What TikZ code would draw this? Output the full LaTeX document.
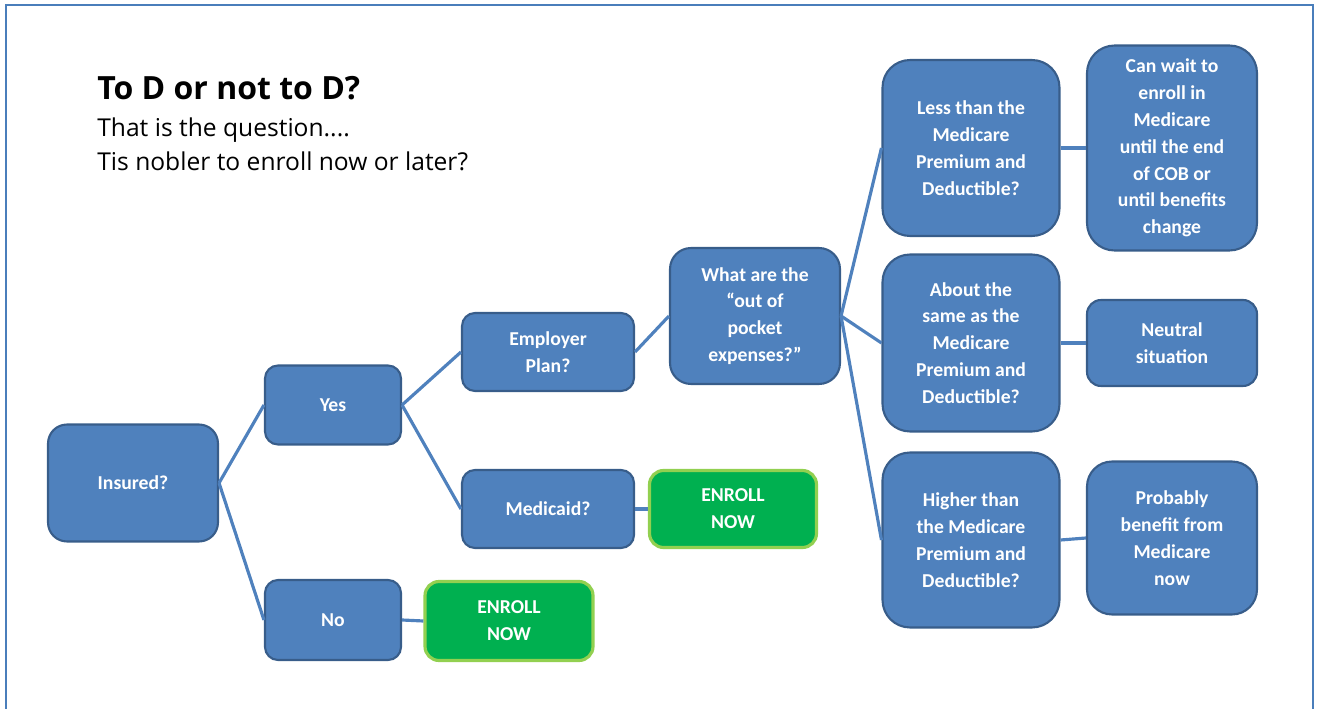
\documentclass[tikz,border=0pt]{standalone}
\usepackage{fontspec}
\setmainfont{Carlito}
\newfontfamily\titlefont{Open Sans}
\usetikzlibrary{positioning}
\definecolor{boxblue}{HTML}{4F81BD}
\definecolor{boxedge}{HTML}{385D8A}
\definecolor{boxgreen}{HTML}{00B050}
\definecolor{greenedge}{HTML}{92D050}
\definecolor{framecol}{HTML}{4A7EBB}
\tikzset{qbox/.style = {draw=boxedge, fill=boxblue, line width=1.2pt,
                        rounded corners=#1, text=white, align=center,
                        font=\bfseries\fontsize{11.2}{15.3}\selectfont,
                        inner sep=0pt},
         qbox/.default = 0.3cm,
         gobox/.style = {qbox=0.28cm, draw=greenedge, fill=boxgreen, line width=1.8pt},
         link/.style = {draw=boxblue, line width=1.8pt},
         headline/.style = {anchor=base west, inner sep=0pt}}

\begin{document}
\begin{tikzpicture}[x=0.02cm, y=-0.02cm]
  \useasboundingbox (0, 0) rectangle (1322, 709);
  \draw [framecol, line width=1.6pt] (6, 709) -- (6, 5) -- (1313, 5) -- (1313, 709);

  \node [headline, font=\titlefont\bfseries\fontsize{18.2}{22}\selectfont] (title) at (97, 100) {To D or not to D?};
  \node [headline, font=\titlefont\fontsize{14}{17}\selectfont] (sub1) at (97, 137) {That is the question....};
  \node [headline, font=\titlefont\fontsize{14}{17}\selectfont] (sub2) at (97, 171) {Tis nobler to enroll now or later?};

  \node [qbox=0.38cm, minimum width=3.4cm, minimum height=2.34cm] (insured) at (133, 483) {Insured?};
  \node [qbox=0.26cm, minimum width=2.72cm, minimum height=1.58cm] (yes) at (333, 405) {Yes};
  \node [qbox=0.26cm, minimum width=2.72cm, minimum height=1.6cm] (no) at (333, 620) {No};
  \node [qbox=0.26cm, minimum width=3.44cm, minimum height=1.56cm] (employer) at (548, 352) {Employer\\Plan?};
  \node [qbox=0.26cm, minimum width=3.44cm, minimum height=1.56cm] (medicaid) at (548, 509) {Medicaid?};
  \node [gobox, minimum width=3.34cm, minimum height=1.54cm] (enrollmed) at (733, 509) {ENROLL\\NOW};
  \node [gobox, minimum width=3.36cm, minimum height=1.58cm] (enrollno) at (509, 621) {ENROLL\\NOW};
  \node [qbox=0.42cm, minimum width=3.4cm, minimum height=2.72cm] (pocket) at (755, 316) {What are the\\``out of\\pocket\\expenses?''};

  \node [qbox=0.55cm, minimum width=3.54cm, minimum height=3.52cm] (less) at (971, 148) {Less than the\\Medicare\\Premium and\\Deductible?};
  \node [qbox=0.55cm, minimum width=3.54cm, minimum height=3.54cm] (same) at (971, 343) {About the\\same as the\\Medicare\\Premium and\\Deductible?};
  \node [qbox=0.55cm, minimum width=3.54cm, minimum height=3.5cm] (higher) at (971, 540) {Higher than\\the Medicare\\Premium and\\Deductible?};

  \node [qbox=0.55cm, minimum width=3.4cm, minimum height=4.1cm] (wait) at (1172, 148) {Can wait to\\enroll in\\Medicare\\until the end\\of COB or\\until benefits\\change};
  \node [qbox=0.28cm, minimum width=3.4cm, minimum height=1.72cm] (neutral) at (1172, 343) {Neutral\\situation};
  \node [qbox=0.5cm, minimum width=3.4cm, minimum height=3.06cm] (benefit) at (1172, 538) {Probably\\benefit from\\Medicare\\now};

  \draw [link] (insured.east) -- (yes.west);
  \draw [link] (insured.east) -- (no.west);
  \draw [link] (yes.east) -- (employer.west);
  \draw [link] (yes.east) -- (medicaid.west);
  \draw [link] (medicaid.east) -- (enrollmed.west);
  \draw [link] (no.east) -- (enrollno.west);
  \draw [link] (employer.east) -- (pocket.west);
  \foreach \n in {less, same, higher} {
    \draw [link] (pocket.east) -- (\n.west);
  }
  \draw [link] (less.east) -- (wait.west);
  \draw [link] (same.east) -- (neutral.west);
  \draw [link] (higher.east) -- (benefit.west);
\end{tikzpicture}
\end{document}
